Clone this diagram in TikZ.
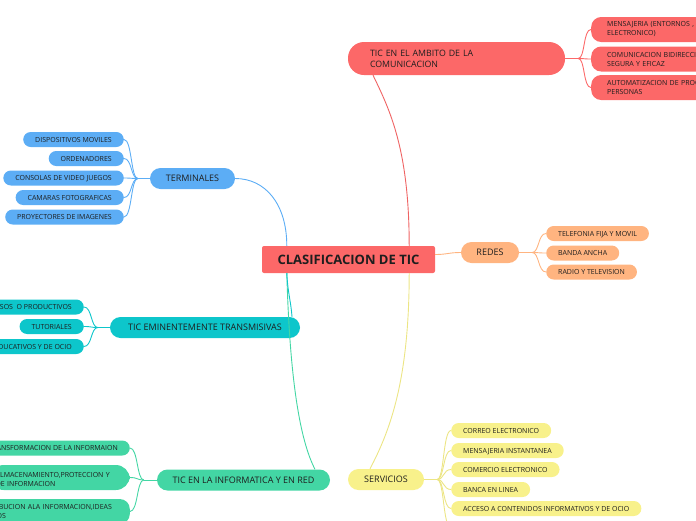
\documentclass[tikz,border=0pt]{standalone}
\usepackage{fontspec}
\setmainfont{Open Sans}
\definecolor{cred}{HTML}{FC6868}
\definecolor{cblue}{HTML}{5CADF5}
\definecolor{ccyan}{HTML}{0DC6CB}
\definecolor{cgreen}{HTML}{43D6A4}
\definecolor{cyellow}{HTML}{F8F18B}
\definecolor{corange}{HTML}{FFB480}
\definecolor{txt}{HTML}{1E1E1E}
\begin{document}
\begin{tikzpicture}[x=1pt,y=-1pt,
  leaf/.style={rounded corners=7.5pt, minimum height=15pt, inner xsep=12pt, inner ysep=0pt,
    text height=5pt, text depth=0pt, font=\fontsize{7}{9}\selectfont, text=txt},
  mleaf/.style={rounded corners=10pt, minimum height=25pt, inner ysep=3pt, inner xsep=16pt,
    align=left, font=\fontsize{7}{9}\selectfont, text=txt},
  branch/.style={rounded corners=10.5pt, minimum height=21pt, inner xsep=10pt, inner ysep=0pt,
    text height=6.4pt, text depth=0pt, font=\fontsize{9}{11}\selectfont, text=txt},
  con/.style={line width=0.9pt},
]
\useasboundingbox (0,0) rectangle (696,520);
\clip (0,0) rectangle (696,520);

% central
\node[fill=cred, rounded corners=2pt, minimum width=173pt, minimum height=27pt, inner sep=0pt,
  text height=9.3pt, text depth=0pt,
  font=\bfseries\fontsize{13}{14}\selectfont, text=txt] (c) at (348.5,259.5) {CLASIFICACION DE TIC};

% branches
\node[fill=cred, rounded corners=16pt, minimum height=33pt, text width=173pt, inner xsep=22pt,
  inner ysep=0pt, align=left, font=\fontsize{8.8}{11}\selectfont, text=txt] (amb) at (456.5,58.5)
  {TIC EN EL AMBITO DE LA\\COMUNICACION};
\node[branch, fill=cblue, minimum width=85pt] (term) at (192.5,178.5) {TERMINALES};
\node[branch, fill=corange, minimum width=58pt] (redes) at (490,252.5) {REDES};
\node[branch, fill=ccyan, minimum width=190pt] (trans) at (205,327.5) {TIC EMINENTEMENTE TRANSMISIVAS};
\node[branch, fill=cgreen, minimum width=173pt] (inf) at (243.5,480) {TIC EN LA INFORMATICA Y EN RED};
\node[branch, fill=cyellow, minimum width=76pt] (serv) at (386,479.5) {SERVICIOS};

% main connectors
\draw[con, cblue] ([xshift=25pt]c.north west) .. controls +(0,-42) and +(30,0) .. (term.east);
\draw[con, cred!95!black] ([xshift=-26pt]c.north east) .. controls +(0,-96) and +(17,35) .. ([xshift=-83.5pt]amb.south);
\draw[con, cyellow!95!black] ([xshift=-26pt]c.south east) .. controls +(0,107) and +(20,-38) .. ([xshift=-16pt]serv.north);
\draw[con, cgreen] ([xshift=25pt]c.south west) .. controls +(3,107) and +(-15,-29) .. ([xshift=71.5pt]inf.north);
\draw[con, ccyan] ([xshift=25pt]c.south west) .. controls +(1,20) and +(-1,-15) .. ([xshift=87pt]trans.north);
\draw[con, corange] ([yshift=5pt]c.east) .. controls +(12,0) and +(-12,0) .. (redes.west);

% AMBITO children
\node[mleaf, fill=cred, anchor=west, text width=180pt] (a1) at (591,29.5) {MENSAJERIA (ENTORNOS , CORREO\\ELECTRONICO)};
\node[mleaf, fill=cred, anchor=west, text width=180pt] (a2) at (591,59) {COMUNICACION BIDIRECCIONAL\\SEGURA Y EFICAZ};
\node[mleaf, fill=cred, anchor=west, text width=180pt] (a3) at (591,87.5) {AUTOMATIZACION DE PROCESOS ENTRE\\PERSONAS};
\draw[con, cred] (amb.east) -- ++(13,0) coordinate (ab);
\foreach \n in {a1,a2,a3}
  \draw[con, cred] (ab) .. controls +(7,0) and +(-8,0) .. (\n.west);

% TERMINALES children
\node[leaf, fill=cblue, anchor=east] (t1) at (124,139.5) {DISPOSITIVOS MOVILES};
\node[leaf, fill=cblue, anchor=east] (t2) at (124,158.5) {ORDENADORES};
\node[leaf, fill=cblue, anchor=east] (t3) at (124,178) {CONSOLAS DE VIDEO JUEGOS};
\node[leaf, fill=cblue, anchor=east] (t4) at (124,197.5) {CAMARAS FOTOGRAFICAS};
\node[leaf, fill=cblue, anchor=east] (t5) at (124,217) {PROYECTORES DE IMAGENES};
\draw[con, cblue] (term.west) -- ++(-12,0) coordinate (tb);
\foreach \n in {t1,t2,t3,t4,t5}
  \draw[con, cblue] (tb) .. controls +(-7,0) and +(8,0) .. (\n.east);

% REDES children
\node[leaf, fill=corange, anchor=west] (r1) at (546,233.5) {TELEFONIA FIJA Y MOVIL};
\node[leaf, fill=corange, anchor=west] (r2) at (546,253) {BANDA ANCHA};
\node[leaf, fill=corange, anchor=west] (r3) at (546,272) {RADIO Y TELEVISION};
\draw[con, corange] (redes.east) -- ++(13,0) coordinate (rb);
\foreach \n in {r1,r2,r3}
  \draw[con, corange] (rb) .. controls +(7,0) and +(-8,0) .. (\n.west);

% TRANSMISIVAS children
\node[leaf, fill=ccyan, anchor=east] (m1) at (84,307) {RECURSOS\ \ O PRODUCTIVOS};
\node[leaf, fill=ccyan, anchor=east] (m2) at (84,326.5) {TUTORIALES};
\node[leaf, fill=ccyan, anchor=east] (m3) at (84,346.5) {JUEGOS EDUCATIVOS Y DE OCIO};
\draw[con, ccyan] (trans.west) -- ++(-12,0) coordinate (mb);
\foreach \n in {m1,m2,m3}
  \draw[con, ccyan] (mb) .. controls +(-7,0) and +(8,0) .. (\n.east);

% INFORMATICA children
\node[leaf, fill=cgreen, anchor=east] (i1) at (130,448) {TRANSFORMACION DE LA INFORMAION};
\node[mleaf, fill=cgreen, anchor=east, text width=128pt, inner xsep=6pt, rounded corners=14pt] (i2) at (130,477.5)
  {\mbox{}\\ALMACENAMIENTO,PROTECCION Y\\DE INFORMACION};
\node[mleaf, fill=cgreen, anchor=east, text width=146pt, inner xsep=6pt] (i3) at (130,511.5)
  {DISTRIBUCION ALA INFORMACION,IDEAS\\Y DATOS};
\draw[con, cgreen] (inf.west) -- ++(-13,0) coordinate (ib);
\foreach \n in {i1,i2,i3}
  \draw[con, cgreen] (ib) .. controls +(-7,0) and +(8,0) .. (\n.east);

% SERVICIOS children
\node[leaf, fill=cyellow, anchor=west] (s1) at (451,430.5) {CORREO ELECTRONICO};
\node[leaf, fill=cyellow, anchor=west] (s2) at (451,450.5) {MENSAJERIA INSTANTANEA};
\node[leaf, fill=cyellow, anchor=west] (s3) at (451,469.5) {COMERCIO ELECTRONICO};
\node[leaf, fill=cyellow, anchor=west] (s4) at (451,489.5) {BANCA EN LINEA};
\node[leaf, fill=cyellow, anchor=west] (s5) at (451,508.5) {ACCESO A CONTENIDOS INFORMATIVOS Y DE OCIO};
\coordinate (s6) at (451,528);
\draw[con, cyellow!95!black] (serv.east) -- ++(13,0) coordinate (sb);
\foreach \n in {s1,s2,s3,s4,s5}
  \draw[con, cyellow!95!black] (sb) .. controls +(7,0) and +(-8,0) .. (\n.west);
\draw[con, cyellow!95!black] (sb) .. controls +(7,0) and +(-8,0) .. (s6);
\end{tikzpicture}
\end{document}
